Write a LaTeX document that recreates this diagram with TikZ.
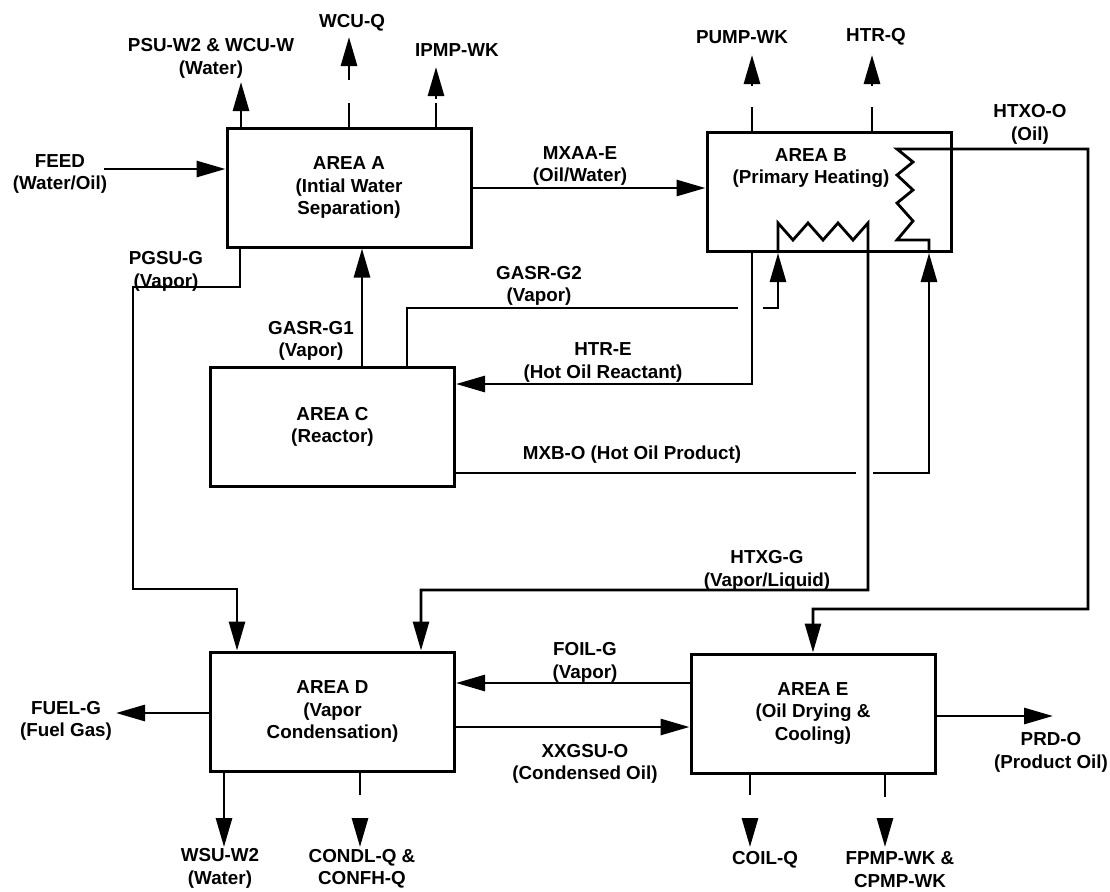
\documentclass[tikz,border=0pt]{standalone}
\usepackage{fontspec}
\setmainfont{Liberation Sans}
\usetikzlibrary{arrows.meta, positioning}

\begin{document}
\begin{tikzpicture}[
  x=0.5pt, y=-0.5pt,
  font=\bfseries\fontsize{9.4}{11.2}\selectfont,
  line width=1.4pt,
  area/.style={rectangle, draw, line width=1.5pt, minimum width=122pt,
               minimum height=59.5pt, align=center, inner sep=0pt},
  lbl/.style={align=center, inner sep=0pt},
  arrow/.style={-{Triangle[length=14.5pt, width=8pt]}},
]
\useasboundingbox (0,0) rectangle (1110,891);

\node[area] (A) at (349,187.5) {AREA A\\(Intial Water\\Separation)};
\node[area] (B) at (829,192) {};
\node[lbl]  (Btext) at (811,168) {AREA B\\(Primary Heating)};
\node[area] (C) at (332.5,427) {AREA C\\(Reactor)};
\node[area] (D) at (332.5,711.5) {AREA D\\(Vapor\\Condensation)};
\node[area] (E) at (813,713.5) {AREA E\\(Oil Drying \&\\Cooling)};

\node[lbl] (feed)  at (60,174)     {FEED\\(Water/Oil)};
\node[lbl] (psu)   at (211,58.5)   {PSU-W2 \& WCU-W\\(Water)};
\node[lbl] (wcuq)  at (352,23)     {WCU-Q};
\node[lbl] (ipmp)  at (457,50)     {IPMP-WK};
\node[lbl] (pump)  at (742,37)     {PUMP-WK};
\node[lbl] (htrq)  at (876,37)     {HTR-Q};
\node[lbl] (htxo)  at (1030,124.5) {HTXO-O\\(Oil)};
\node[lbl] (mxaa)  at (580,166)    {MXAA-E\\(Oil/Water)};
\node[lbl] (pgsu)  at (166,271.5)  {PGSU-G\\(Vapor)};
\node[lbl] (gasr2) at (539,286)    {GASR-G2\\(Vapor)};
\node[lbl] (gasr1) at (311,341)    {GASR-G1\\(Vapor)};
\node[lbl] (htre)  at (603,362.5)  {HTR-E\\(Hot Oil Reactant)};
\node[lbl] (mxbo)  at (632,455)    {MXB-O (Hot Oil Product)};
\node[lbl] (htxg)  at (767,570.5)  {HTXG-G\\(Vapor/Liquid)};
\node[lbl] (foil)  at (585,662.5)  {FOIL-G\\(Vapor)};
\node[lbl] (xxgsu) at (585,764)    {XXGSU-O\\(Condensed Oil)};
\node[lbl] (fuel)  at (66,721)     {FUEL-G\\(Fuel Gas)};
\node[lbl] (prdo)  at (1051,752.5) {PRD-O\\(Product Oil)};
\node[lbl] (wsu)   at (220,868.5)  {WSU-W2\\(Water)};
\node[lbl] (condl) at (362,868.5)  {CONDL-Q \&\\CONFH-Q};
\node[lbl] (coilq) at (765,860)    {COIL-Q};
\node[lbl] (fpmp)  at (900,869.5)  {FPMP-WK \&\\CPMP-WK};

\coordinate (feedin) at (104,169);
\coordinate (psuout) at (241,82);
\coordinate (wcucut) at (349,103);
\coordinate (wcuout) at (349,37);
\coordinate (ipmpcut) at (436,103);
\coordinate (ipmpout) at (436,67);
\coordinate (pumpcut) at (752,107);
\coordinate (pumpout) at (752,55);
\coordinate (htrqcut) at (872,107);
\coordinate (htrqout) at (872,55);
\coordinate (mxaaline) at (580,188);
\coordinate (htxotop) at (1088,149);
\coordinate (htxobot) at (1088,609);
\coordinate (hcoilin) at (929,473);
\coordinate (hcoilout) at (897,149);
\coordinate (ccoilin) at (778,308);
\coordinate (ccoilout) at (868,223);
\coordinate (htxgbend) at (868,590);
\coordinate (gasr2cut) at (738,308);
\coordinate (mxbocut) at (856,473);
\coordinate (htrebend) at (752,384);
\coordinate (fuelout) at (116,713);
\coordinate (prdout) at (1053,716);
\coordinate (wsuout) at (224,847);
\coordinate (condlcut) at (360,795);
\coordinate (condlout) at (360,847);
\coordinate (coilcut) at (750,795);
\coordinate (coilout) at (750,847);
\coordinate (fpmpcut) at (885,797);
\coordinate (fpmpout) at (885,847);

\draw[arrow] (feedin) -- (feedin -| A.west);
\draw[arrow] (A.north -| psuout) -- (psuout);
\draw (A.north -| wcucut) -- (wcucut);
\draw[arrow] (349,80) -- (wcuout);
\draw (A.north -| ipmpcut) -- (ipmpcut);
\draw[arrow] (436,99) -- (ipmpout);
\draw (B.north -| pumpcut) -- (pumpcut);
\draw[arrow] (752,86) -- (pumpout);
\draw (B.north -| htrqcut) -- (htrqcut);
\draw[arrow] (872,86) -- (htrqout);

\draw[arrow] (A.east |- mxaaline) -- (B.west |- mxaaline);

\draw[arrow] (A.south -| 240,0) -- (240,287) -- (133,287) -- (133,589)
  -- (237,589) -- (D.north -| 237,0);
\draw[arrow] (C.north -| 362,0) -- (A.south -| 362,0);
\draw (C.north -| 407,0) -- (407,308) -- (gasr2cut);
\draw[arrow] (763,308) -- (ccoilin) -- (B.south -| ccoilin);
\draw[arrow] (B.south -| ccoilin) -- (778,223) -- (793,240) -- (808,223)
  -- (823,240) -- (838,223) -- (853,240) -- (ccoilout) -- (htxgbend)
  -- (421,590) -- (D.north -| 421,0);
\draw[arrow] (B.south -| htrebend) -- (htrebend) -- (C.east |- htrebend);
\draw (C.east |- mxbocut) -- (mxbocut);
\draw[arrow] (873,473) -- (hcoilin) -- (B.south -| hcoilin);
\draw[arrow] (B.south -| hcoilin) -- (929,240) -- (897,240) -- (913,221)
  -- (897,203) -- (913,190) -- (897,175) -- (913,162) -- (hcoilout)
  -- (htxotop) -- (htxobot) -- (E.north |- htxobot) -- (E.north);

\draw[arrow] (E.west |- 0,683) -- (D.east |- 0,683);
\draw[arrow] (D.east |- 0,727) -- (E.west |- 0,727);
\draw[arrow] (D.west |- fuelout) -- (fuelout);
\draw[arrow] (E.east |- prdout) -- (prdout);
\draw[arrow] (D.south -| wsuout) -- (wsuout);
\draw (D.south -| condlcut) -- (condlcut);
\draw[arrow] (360,818) -- (condlout);
\draw (E.south -| coilcut) -- (coilcut);
\draw[arrow] (750,818) -- (coilout);
\draw (E.south -| fpmpcut) -- (fpmpcut);
\draw[arrow] (885,820) -- (fpmpout);

\end{tikzpicture}
\end{document}
